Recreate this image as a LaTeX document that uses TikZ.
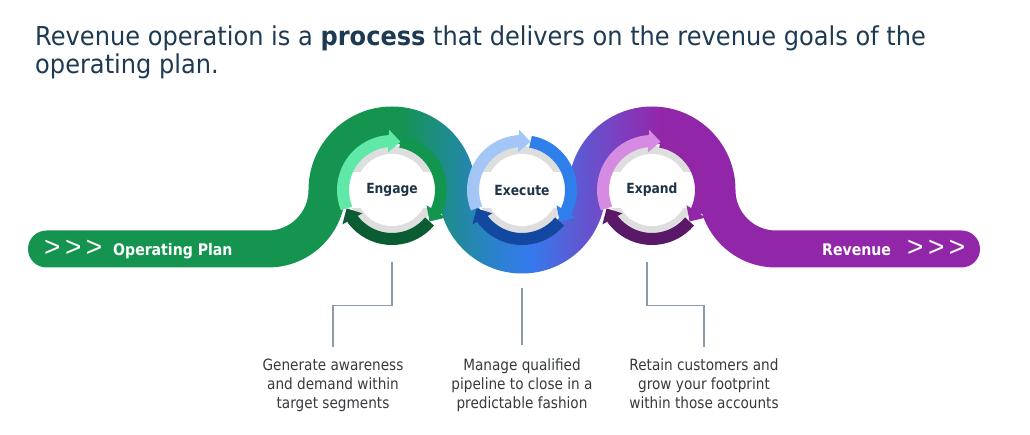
\documentclass[tikz,border=0pt]{standalone}
\usepackage{fontspec}
\setmainfont[FakeStretch=0.88]{DejaVu Sans}
\newfontfamily\titlefont[FakeStretch=0.927]{DejaVu Sans}
\newfontfamily\chevfont{Liberation Sans}
\usetikzlibrary{arrows.meta,bending}

\definecolor{titleblue}{HTML}{1D3A52}
\definecolor{navytext}{HTML}{1D3449}
\definecolor{desctext}{HTML}{363A3E}
\definecolor{conngray}{HTML}{8C9BAA}
\definecolor{ringgray}{HTML}{DEDEDE}
\definecolor{bandgreen}{HTML}{14944F}
\definecolor{bandteal}{HTML}{1F8B93}
\definecolor{bandsky}{HTML}{2A82C8}
\definecolor{bandblue}{HTML}{357AEE}
\definecolor{bandindigo}{HTML}{5B5BD3}
\definecolor{bandviolet}{HTML}{7D3FC0}
\definecolor{bandpurple}{HTML}{9226A8}
\definecolor{engL}{HTML}{60E8A8}
\definecolor{engM}{HTML}{12964F}
\definecolor{engD}{HTML}{0B5C33}
\definecolor{exeL}{HTML}{A3C6F7}
\definecolor{exeM}{HTML}{2E7FEB}
\definecolor{exeD}{HTML}{1348A0}
\definecolor{expL}{HTML}{D68BE3}
\definecolor{expM}{HTML}{9126A7}
\definecolor{expD}{HTML}{5A1868}

\pgfdeclarehorizontalshading{bandshade}{100bp}{color(0bp)=(bandgreen); color(44.5bp)=(bandgreen);
  color(47.2bp)=(bandteal); color(49.3bp)=(bandsky); color(51.4bp)=(bandblue);
  color(53.7bp)=(bandindigo); color(56.1bp)=(bandviolet); color(58.2bp)=(bandpurple); color(100bp)=(bandpurple)}

\tikzset{
  ringarc/.style={line width=12pt, -{Triangle[width=22pt,length=12pt]}},
  ringtext/.style={circle, minimum size=110pt, inner sep=0pt, text=navytext,
    font=\bfseries\fontsize{14}{16}\selectfont},
  bandlabel/.style={anchor=base west, inner sep=0pt, text=white,
    font=\bfseries\fontsize{16}{18}\selectfont},
  chevrons/.style={anchor=base west, inner sep=0pt, text=white,
    font=\chevfont\fontsize{28}{30}\selectfont},
  desc/.style={anchor=north, align=center, inner sep=0pt, text=desctext,
    font=\fontsize{15.5}{19}\selectfont},
  titleline/.style={anchor=base west, inner sep=0pt, text=titleblue,
    font=\titlefont\fontsize{26}{28}\selectfont},
  conn/.style={draw=conngray, line width=1.3pt}
}

\begin{document}
\begin{tikzpicture}[x=1pt,y=1pt]
  \useasboundingbox (0,0) rectangle (1030,-435);

  \node[titleline] (title) at (35,-46)
    {Revenue operation is a \textbf{process} that delivers on the revenue goals of the};
  \node[titleline] (titlecont) at (35,-74) {operating plan.};

  % the band
  \shade[shading=bandshade]
    (46.5,-230.5) -- (268,-230.5)
    arc[start angle=-90, end angle=0, radius=40.5]
    arc[start angle=180, end angle=0, radius=83.5]
    arc[start angle=180, end angle=360, radius=46.5]
    arc[start angle=180, end angle=0, radius=83.5]
    arc[start angle=180, end angle=270, radius=40.5]
    -- (961.5,-230.5)
    arc[start angle=90, end angle=-90, radius=18.5]
    -- (776,-267.5)
    arc[start angle=270, end angle=180, radius=77.5]
    arc[start angle=0, end angle=180, radius=46.5]
    arc[start angle=360, end angle=180, radius=83.5]
    arc[start angle=0, end angle=180, radius=46.5]
    arc[start angle=0, end angle=-90, radius=77.5]
    -- (46.5,-267.5)
    arc[start angle=270, end angle=90, radius=18.5] -- cycle;

  \foreach \nm/\cx/\lt/\md/\dk/\lbl in {engage/392/engL/engM/engD/Engage,
      execute/522/exeL/exeM/exeD/Execute, expand/652/expL/expM/expD/Expand}{
    \fill[ringgray] (\cx,-190) circle[radius=44];
    \begin{scope}
      \clip (\cx,-190) circle[radius=44];
      \fill[white] (\cx-50,-208) rectangle (\cx+50,-172);
    \end{scope}
    \fill[white] (\cx,-190) circle[radius=36];
    \draw[ringarc, color=\dk] ([shift={(-40:49)}]\cx,-190) arc[start angle=-40, end angle=-158, radius=49];
    \draw[ringarc, color=\md] ([shift={(80:49)}]\cx,-190) arc[start angle=80, end angle=-40, radius=49];
    \draw[ringarc, color=\lt] ([shift={(202:49)}]\cx,-190) arc[start angle=202, end angle=80, radius=49];
    \node[ringtext] (\nm) at (\cx,-190) {\lbl};
  }

  \node[chevrons] (inchev) at (44,-257) {>\hspace{4.5pt}>\hspace{4.5pt}>};
  \node[bandlabel] (plan) at (113,-255.5) {Operating Plan};
  \node[bandlabel] (revenue) at (822,-255.5) {Revenue};
  \node[chevrons] (outchev) at (907,-257) {>\hspace{4.5pt}>\hspace{4.5pt}>};

  \node[desc] (engdesc) at (333,-359) {Generate awareness\\and demand within\\target segments};
  \node[desc] (exedesc) at (522,-359) {Manage qualified\\pipeline to close in a\\predictable fashion};
  \node[desc] (expdesc) at (704,-359) {Retain customers and\\grow your footprint\\within those accounts};

  \draw[conn] ([yshift=-17]engage.south) -- ++(0,-43) -| ([yshift=12]engdesc.north);
  \draw[conn] ([yshift=-43]execute.south) -- ([yshift=14]exedesc.north);
  \draw[conn] ([xshift=-5,yshift=-17]expand.south) -- ++(0,-43) -| ([yshift=12]expdesc.north);
\end{tikzpicture}
\end{document}
